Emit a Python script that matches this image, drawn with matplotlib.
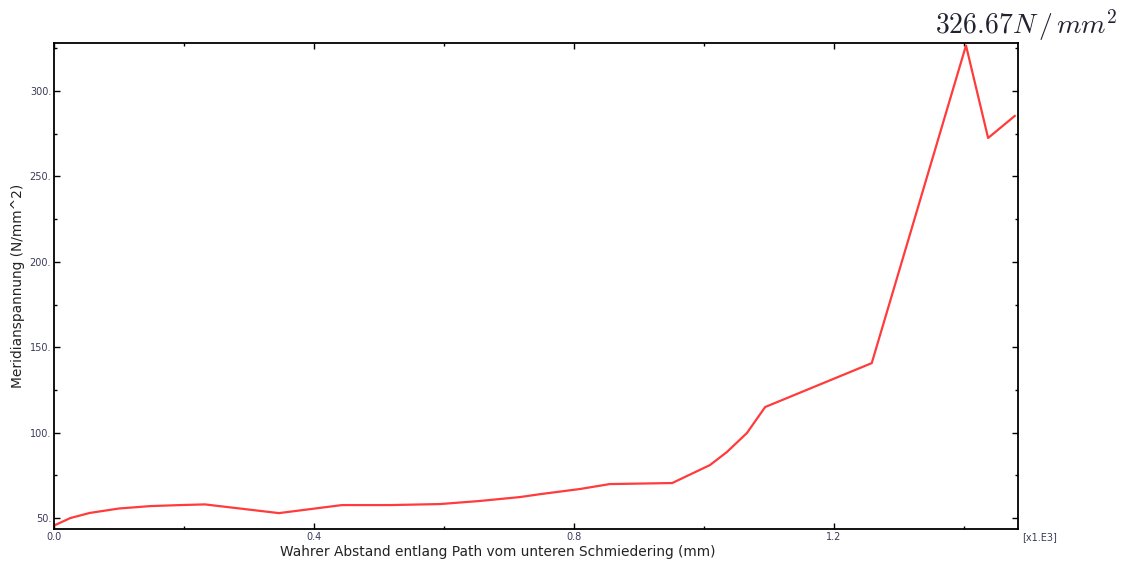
import matplotlib
matplotlib.use('Agg')
import matplotlib.pyplot as plt
from matplotlib.ticker import MultipleLocator, FixedLocator

plt.rcParams['mathtext.fontset'] = 'cm'

# path distance in [x1.E3] mm, meridian stress in N/mm^2
abstand = [0.0, 0.025, 0.055, 0.1, 0.148, 0.194, 0.232, 0.346, 0.443, 0.517,
           0.594, 0.655, 0.717, 0.748, 0.809, 0.855, 0.951, 0.983, 1.009,
           1.035, 1.066, 1.094, 1.258, 1.403, 1.437, 1.478]
spannung = [45.6, 50.0, 53.0, 55.6, 57.0, 57.6, 58.0, 52.9, 57.6, 57.6,
            58.2, 60.0, 62.3, 64.0, 67.0, 69.9, 70.5, 76.3, 81.0,
            88.6, 99.8, 115.0, 140.7, 326.67, 272.5, 285.4]
peak_label = r'$326.67N\,/\,mm^2$'

fig = plt.figure(figsize=(11.23, 5.63), dpi=100)
ax = fig.add_axes([0.0481, 0.0604, 0.8584, 0.8632])

ax.plot(abstand, spannung, color='#ff3b3b', lw=1.6)

ax.set_xlim(0, 1.483)
ax.set_ylim(43.6, 328.1)

ax.xaxis.set_major_locator(FixedLocator([0.0, 0.4, 0.8, 1.2]))
ax.xaxis.set_minor_locator(FixedLocator([0.2, 0.6, 1.0, 1.4]))
ax.yaxis.set_major_locator(MultipleLocator(50))
ax.yaxis.set_minor_locator(MultipleLocator(25))
ax.set_xticklabels(['0.0', '0.4', '0.8', '1.2'])
ax.set_yticks([50, 100, 150, 200, 250, 300])
ax.set_yticklabels(['50.', '100.', '150.', '200.', '250.', '300.'])

ax.tick_params(which='both', direction='in', top=True, right=True,
               labelsize=7, labelcolor='#3a3a5a', width=1, pad=2)
ax.tick_params(which='major', length=4)
ax.tick_params(which='minor', length=2.5)
for s in ax.spines.values():
    s.set_linewidth(1.3)

ax.set_xlabel('Wahrer Abstand entlang Path vom unteren Schmiedering (mm)',
              fontsize=9.9, color='#222222')
ax.xaxis.set_label_coords(0.46, -0.033, transform=ax.transAxes)
ax.xaxis.label.set_va('top')
ax.set_ylabel('Meridianspannung (N/mm^2)', fontsize=9.9, color='#222222',
              labelpad=3)

fig.text(1022 / 1123, 1 - 537 / 563, '[x1.E3]', fontsize=7, color='#3a3a5a',
         va='center', ha='left')
fig.text(1118 / 1123, 1 - 25 / 563, peak_label, fontsize=20, color='#222233',
         ha='right', va='center')

fig.savefig('out.png', dpi=100)
